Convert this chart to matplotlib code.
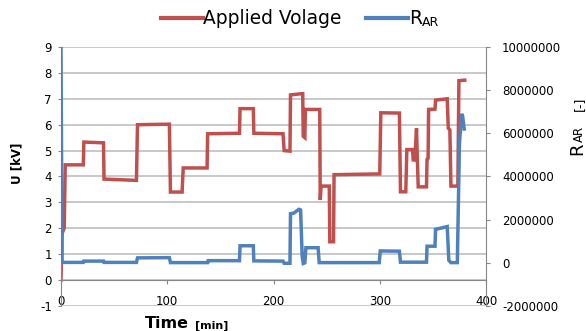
import numpy as np
import matplotlib
matplotlib.use('Agg')
import matplotlib.pyplot as plt
from matplotlib.ticker import FuncFormatter

plt.rcParams['axes.unicode_minus'] = False

# applied voltage, corner points of the step trace [min], [kV]
t_volt = [0, 1, 3, 4, 21, 21.5, 40, 40.5, 71, 72, 102, 103, 114, 115,
          137.5, 138, 168, 168.5, 181, 181.5, 209, 210, 215.5, 216, 227,
          227.5, 228, 229.5, 230, 243, 243.5, 244, 244.8, 252.5, 253,
          256.5, 257, 300, 301, 318.5, 319.5, 324.5, 325.5, 330.8, 331.5,
          333, 334.6, 335.5, 336.2, 344, 344.5, 345.5, 346, 352, 352.5,
          363.5, 364.5, 366, 367, 373.5, 374.5, 380]
u_volt = [0, 1.8, 2.0, 4.45, 4.45, 5.33, 5.3, 3.9, 3.85, 6.0, 6.02, 3.4,
          3.4, 4.33, 4.33, 5.65, 5.67, 6.62, 6.62, 5.67, 5.65, 5.0, 4.98,
          7.15, 7.2, 7.2, 5.55, 5.5, 6.59, 6.59, 6.59, 3.1, 3.63, 3.63,
          1.48, 1.48, 4.07, 4.1, 6.46, 6.45, 3.41, 3.41, 5.04, 5.04, 4.64,
          4.64, 5.86, 4.5, 3.6, 3.6, 4.66, 4.7, 6.59, 6.6, 6.95, 7.0,
          5.86, 5.8, 3.63, 3.63, 7.7, 7.72]

# R_AR on the secondary axis [-]
t_rar = [0, 1, 21, 21.5, 40, 40.5, 71, 72, 102, 103, 138, 138.5, 168,
         168.5, 181, 181.5, 209, 210, 215.5, 216, 219, 224, 225.5, 227,
         228, 229.5, 230.5, 242, 243, 299.5, 300.5, 318.5, 319.5, 344,
         344.5, 352, 352.5, 363.5, 365, 367, 373, 375, 377, 378, 379.5]
r_rar = [1.0e7, 2e4, 2e4, 8e4, 8e4, 2e4, 2e4, 2.3e5, 2.4e5, 1e4, 1e4,
         1.0e5, 1.0e5, 7.9e5, 7.9e5, 9e4, 8e4, -2e4, -2e4, 2.28e6, 2.3e6,
         2.48e6, 2.45e6, 3e5, -3e4, 0, 7.0e5, 7.0e5, 1e4, 1e4, 5.5e5,
         5.4e5, 3e4, 3e4, 7.7e5, 7.7e5, 1.55e6, 1.68e6, 1.2e5, 1e4, 1e4,
         5.5e6, 6.9e6, 6.8e6, 6.2e6]

x_ticks = [0, 100, 200, 300, 400]
u_ticks = list(range(-1, 10))
r_ticks = list(range(-2000000, 10000001, 2000000))

red = '#C0504D'
blue = '#4F81BD'
axis_grey = '#868686'
grid_grey = '#BFBFBF'

fig = plt.figure(figsize=(5.86, 3.31), dpi=100)
ax = fig.add_axes([61 / 586, 1 - 306 / 331, 425 / 586, 259 / 331])

ax.plot(t_volt, u_volt, color=red, lw=2.5, solid_joinstyle='miter',
        label='Applied Volage')
ax.set_xlim(0, 400)
ax.set_ylim(-1, 9)
ax.set_xticks(x_ticks)
ax.set_yticks(u_ticks)
ax.grid(axis='y', color=grid_grey, lw=1.2)
ax.set_axisbelow(True)
for s in ['top', 'right']:
    ax.spines[s].set_visible(False)
ax.spines['bottom'].set_position(('data', 0))
ax.spines['bottom'].set_color(axis_grey)
ax.spines['left'].set_color(axis_grey)
ax.tick_params(axis='y', length=2.5, color=axis_grey, pad=4, labelsize=8.5)
ax.tick_params(axis='x', length=3, color=axis_grey, pad=8, labelsize=8.5)

ax2 = ax.twinx()
ax2.plot(t_rar, r_rar, color=blue, lw=2.5, solid_joinstyle='miter',
         label='R')
ax2.set_ylim(-2e6, 1e7)
ax2.set_yticks(r_ticks)
ax2.yaxis.set_major_formatter(FuncFormatter(lambda v, p: '%d' % v))
for s in ['top', 'left', 'bottom']:
    ax2.spines[s].set_visible(False)
ax2.spines['right'].set_color(axis_grey)
ax2.tick_params(axis='y', length=3, color=axis_grey, pad=8.5, labelsize=8.5)

# axis titles
fig.text(17 / 586, 0.508, 'U [kV]', rotation=90, ha='center', va='center',
         fontsize=8.5, fontweight='bold')
t_lab = fig.text(145 / 586, 1 - 328 / 331, 'Time', ha='left',
                 va='baseline', fontsize=11.5, fontweight='bold')
r_lab = fig.text(577 / 586, 1 - 155 / 331, 'R', rotation=90, ha='center',
                 va='bottom', fontsize=13)

handles = ax.get_lines() + ax2.get_lines()
leg = fig.legend(handles, [h.get_label() for h in handles], loc='center',
                 bbox_to_anchor=(0.497, 1 - 19 / 331), ncol=2, frameon=False,
                 fontsize=13.4, handlelength=2.25, handletextpad=0.05,
                 columnspacing=1.3)
for h in leg.legend_handles:
    h.set_linewidth(3)

fig.canvas.draw()

ax.annotate('[min]', xy=(1, 0), xycoords=t_lab, xytext=(4, 0),
            textcoords='offset points', ha='left', va='bottom',
            fontsize=8, fontweight='bold', annotation_clip=False)
ar = ax.annotate('AR', xy=(1, 1), xycoords=r_lab, ha='right',
                 va='bottom', rotation=90, fontsize=8.5,
                 annotation_clip=False)
ax.annotate('[-]', xy=(1, 1), xycoords=ar, xytext=(0, 11),
            textcoords='offset points', ha='right', va='bottom',
            rotation=90, fontsize=9, annotation_clip=False)
ax.annotate('AR', xy=(1, 0), xycoords=leg.get_texts()[1], ha='left',
            va='bottom', fontsize=9, annotation_clip=False)

fig.savefig('out.png', dpi=100)
